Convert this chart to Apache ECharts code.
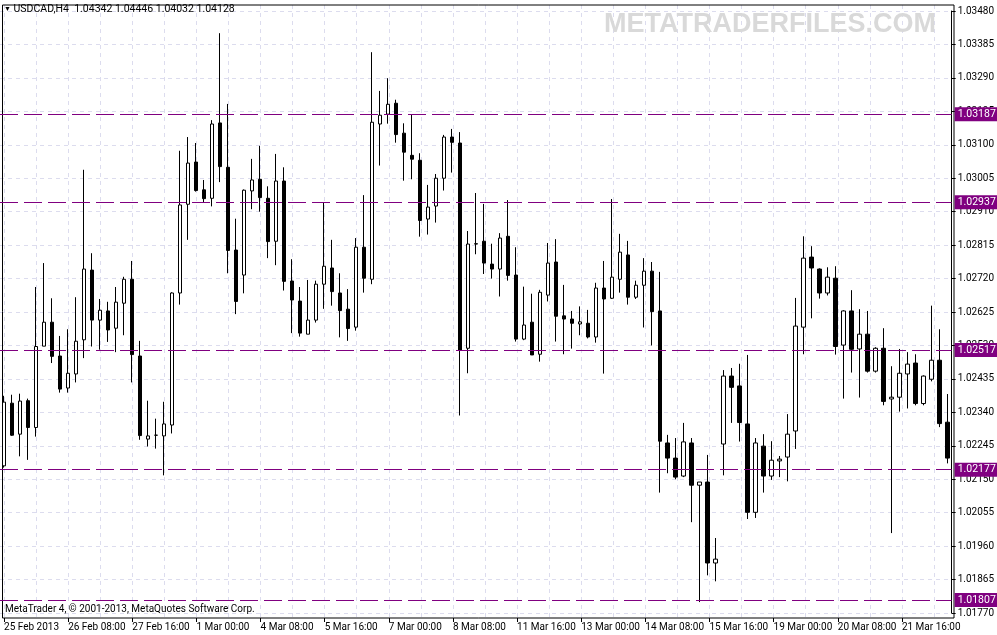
<!DOCTYPE html>
<html><head><meta charset="utf-8">
<script src="https://cdn.jsdelivr.net/npm/echarts@6/dist/echarts.min.js"></script>
<style>html,body{margin:0;padding:0;background:#fff;}#c{width:997px;height:635px;}</style>
</head><body><div id="c"></div><script>
// ---- data (USDCAD H4) ----
const openP = [1.02188,1.02366,1.02278,1.02373,1.02297,1.02528,1.02596,1.02500,1.02409,1.02449,
1.02546,1.02744,1.02602,1.02628,1.02579,1.02650,1.02718,1.02500,1.02264,1.02275,
1.02273,1.02304,1.02679,1.02931,1.03051,1.02972,1.02948,1.03162,1.03036,1.02801,
1.02730,1.02969,1.03002,1.02948,1.02826,1.02997,1.02713,1.02656,1.02562,1.02602,
1.02704,1.02750,1.02679,1.02633,1.02582,1.02809,1.02718,1.03159,1.03187,1.03218,
1.03133,1.03070,1.03056,1.02889,1.02926,1.03005,1.03122,1.03105,1.02522,1.02818,
1.02826,1.02761,1.02747,1.02840,1.02730,1.02548,1.02596,1.02505,1.02673,1.02767,
1.02614,1.02605,1.02591,1.02593,1.02554,1.02693,1.02664,1.02718,1.02787,1.02667,
1.02701,1.02741,1.02628,1.02253,1.02210,1.02159,1.02253,1.02133,1.02142,1.01912,
1.02250,1.02443,1.02415,1.02307,1.02056,1.02244,1.02159,1.02202,1.02213,1.02287,
1.02582,1.02781,1.02747,1.02679,1.02721,1.02531,1.02628,1.02520,1.02562,1.02457,
1.02522,1.02378,1.02383,1.02449,1.02480,1.02365,1.02434,1.02488,1.02312];
const highP = [1.02387,1.02390,1.02393,1.02379,1.02696,1.02764,1.02664,1.02557,1.02576,1.02667,
1.03029,1.02792,1.02662,1.02654,1.02696,1.02725,1.02770,1.02543,1.02373,1.02322,
1.02370,1.02681,1.03083,1.03122,1.03105,1.03000,1.03170,1.03417,1.03216,1.02890,
1.02973,1.03060,1.03097,1.02982,1.03074,1.03036,1.02775,1.02696,1.02716,1.02714,
1.02937,1.02830,1.02735,1.02690,1.02835,1.02957,1.03363,1.03253,1.03289,1.03228,
1.03161,1.03186,1.03076,1.02986,1.03017,1.03128,1.03145,1.03136,1.02855,1.02963,
1.02932,1.02819,1.02849,1.02943,1.02809,1.02697,1.02677,1.02688,1.02821,1.02832,
1.02702,1.02628,1.02641,1.02631,1.02708,1.02770,1.02946,1.02847,1.02827,1.02714,
1.02778,1.02767,1.02739,1.02276,1.02267,1.02310,1.02267,1.02142,1.02219,1.01983,
1.02460,1.02466,1.02478,1.02503,1.02267,1.02278,1.02258,1.02216,1.02335,1.02665,
1.02840,1.02812,1.02749,1.02752,1.02755,1.02630,1.02687,1.02633,1.02628,1.02525,
1.02579,1.02471,1.02520,1.02511,1.02505,1.02445,1.02643,1.02576,1.02392];
const lowP = [1.02183,1.02273,1.02215,1.02205,1.02271,1.02528,1.02480,1.02396,1.02396,1.02425,
1.02494,1.02527,1.02518,1.02540,1.02511,1.02559,1.02425,1.02262,1.02243,1.02237,
1.02161,1.02280,1.02646,1.02830,1.02967,1.02936,1.02925,1.02994,1.02735,1.02619,
1.02678,1.02917,1.02910,1.02778,1.02758,1.02686,1.02565,1.02555,1.02562,1.02595,
1.02634,1.02643,1.02553,1.02543,1.02572,1.02680,1.02704,1.03041,1.03160,1.03106,
1.02998,1.03002,1.02839,1.02845,1.02879,1.02970,1.03021,1.02331,1.02451,1.02789,
1.02733,1.02720,1.02669,1.02714,1.02541,1.02545,1.02503,1.02484,1.02655,1.02541,
1.02505,1.02521,1.02559,1.02550,1.02538,1.02450,1.02662,1.02680,1.02646,1.02662,
1.02581,1.02530,1.02112,1.02167,1.02150,1.02156,1.02028,1.01801,1.01877,1.01860,
1.02161,1.02310,1.02257,1.02037,1.02040,1.02112,1.02148,1.02156,1.02144,1.02236,
1.02505,1.02607,1.02663,1.02672,1.02504,1.02379,1.02453,1.02382,1.02453,1.02453,
1.02360,1.01997,1.02342,1.02351,1.02360,1.02360,1.02428,1.02298,1.02195];
const closeP = [1.02369,1.02275,1.02372,1.02297,1.02527,1.02596,1.02499,1.02406,1.02451,1.02542,
1.02747,1.02602,1.02630,1.02574,1.02653,1.02718,1.02504,1.02274,1.02273,1.02275,
1.02307,1.02679,1.02929,1.03048,1.02970,1.02947,1.03159,1.03038,1.02800,1.02655,
1.02971,1.03000,1.02950,1.02825,1.02997,1.02712,1.02659,1.02565,1.02602,1.02704,
1.02755,1.02683,1.02629,1.02578,1.02809,1.02721,1.03164,1.03184,1.03215,1.03129,
1.03079,1.03059,1.02885,1.02923,1.03005,1.03122,1.03107,1.02517,1.02818,1.02819,
1.02764,1.02747,1.02835,1.02729,1.02548,1.02588,1.02503,1.02681,1.02764,1.02613,
1.02605,1.02593,1.02597,1.02554,1.02693,1.02662,1.02724,1.02795,1.02667,1.02701,
1.02741,1.02626,1.02258,1.02210,1.02156,1.02256,1.02133,1.02142,1.01912,1.01923,
1.02443,1.02411,1.02311,1.02056,1.02253,1.02159,1.02204,1.02207,1.02278,1.02585,
1.02778,1.02750,1.02679,1.02724,1.02527,1.02628,1.02519,1.02562,1.02457,1.02522,
1.02371,1.02383,1.02451,1.02477,1.02365,1.02443,1.02488,1.02308,1.02210];
// time-axis labels, one every 8 bars (bar 0, 8, 16, ...)
const tickLabels = ['25 Feb 2013','26 Feb 08:00','27 Feb 16:00','1 Mar 00:00','4 Mar 08:00',
'5 Mar 16:00','7 Mar 00:00','8 Mar 08:00','11 Mar 16:00','13 Mar 00:00','14 Mar 08:00',
'15 Mar 16:00','19 Mar 00:00','20 Mar 08:00','21 Mar 16:00'];
const labelEvery = 8;
const gridEvery = 4;
// price scale
const priceMin = 1.01770, priceMax = 1.03480, priceStep = 0.00095;
// horizontal levels
const levels = [1.03187, 1.02937, 1.02517, 1.02177, 1.01807];
const headerText = 'USDCAD,H4  1.04342 1.04446 1.04032 1.04128';
const watermark = 'METATRADERFILES.COM';
const copyright = 'MetaTrader 4, \u00A9 2001-2013, MetaQuotes Software Corp.';

// ---- chart ----
const FONT = 'Roboto, "Liberation Sans", sans-serif';
const GRIDC = '#dcdcee';
const cats = openP.map((_, i) => i);
const ohlc = openP.map((o, i) => [o, closeP[i], lowP[i], highP[i]]);

const chart = echarts.init(document.getElementById('c'), null, {renderer: 'canvas'});
chart.setOption({
  animation: false,
  backgroundColor: '#fff',
  title: [
    {text: '{t|\u25BC} ' + headerText, left: 4, top: 4, padding: 0,
     textStyle: {fontSize: 10.5, fontWeight: 'normal', color: '#000', fontFamily: FONT,
       rich: {t: {fontSize: 7, color: '#000', fontFamily: FONT}}}},
    {text: watermark, left: 604, top: 11, padding: 0,
     textStyle: {fontSize: 27, fontWeight: 'bold', color: '#d9d9d9', fontFamily: '"Liberation Sans", sans-serif'}},
    {text: copyright, left: 5, top: 604, padding: 0,
     textStyle: {fontSize: 10, fontWeight: 'normal', color: '#000', fontFamily: FONT}}
  ],
  grid: [
    {left: -1, right: 43, top: 11, bottom: 22},
    {left: -1, right: 43, top: 5, bottom: 17},
    {left: 2.5, right: 43, top: 5, bottom: 17, show: true, borderColor: '#000', borderWidth: 1, backgroundColor: 'transparent', z: 5}
  ],
  xAxis: [
    {type: 'category', gridIndex: 0, data: cats, boundaryGap: true,
     axisLine: {show: false}, axisTick: {show: false}, axisLabel: {show: false}, splitLine: {show: false}},
    {type: 'category', gridIndex: 1, data: cats, boundaryGap: true,
     axisLine: {show: false},
     axisTick: {show: true, alignWithLabel: true, interval: (i) => i % labelEvery === 0, length: 4, lineStyle: {color: '#000'}},
     axisLabel: {show: true, interval: (i) => i % labelEvery === 0, align: 'left', margin: 4,
       color: '#000', fontSize: 10, fontFamily: FONT,
       formatter: (v, i) => tickLabels[i / labelEvery] || ''},
     splitLine: {show: true, alignWithLabel: true, interval: (i) => i % gridEvery === 0,
       lineStyle: {color: GRIDC, type: [4, 4], width: 1}}},
    {type: 'category', gridIndex: 2, data: cats, show: false}
  ],
  yAxis: [
    {type: 'value', gridIndex: 0, position: 'right', min: priceMin, max: priceMax, interval: priceStep,
     axisLine: {show: true, lineStyle: {color: '#000'}},
     axisTick: {show: true, length: 4, lineStyle: {color: '#000'}},
     axisLabel: {show: true, margin: 6, color: '#000', fontSize: 10, fontFamily: FONT,
       formatter: (v) => v.toFixed(5)},
     splitLine: {show: true, lineStyle: {color: GRIDC, type: [4, 4], width: 1}}},
    {type: 'value', gridIndex: 1, show: false, splitLine: {show: false}},
    {type: 'value', gridIndex: 2, show: false, splitLine: {show: false}}
  ],
  series: [{
    type: 'candlestick', xAxisIndex: 0, yAxisIndex: 0, data: ohlc,
    barWidth: 4, large: false,
    itemStyle: {color: '#fff', color0: '#000', borderColor: '#000', borderColor0: '#000', borderColorDoji: '#000', borderWidth: 1},
    markLine: {
      silent: true, symbol: 'none', animation: false, precision: 5,
      lineStyle: {color: '#800080', type: [18, 6], width: 1},
      label: {show: true, position: 'end', distance: 3, formatter: (p) => Number(p.value).toFixed(5),
        color: '#fff', backgroundColor: '#800080', padding: [2, 6, 1, 3], fontSize: 10.5, fontFamily: FONT},
      data: levels.map(v => ({yAxis: v}))
    }
  }]
});
</script></body></html>
